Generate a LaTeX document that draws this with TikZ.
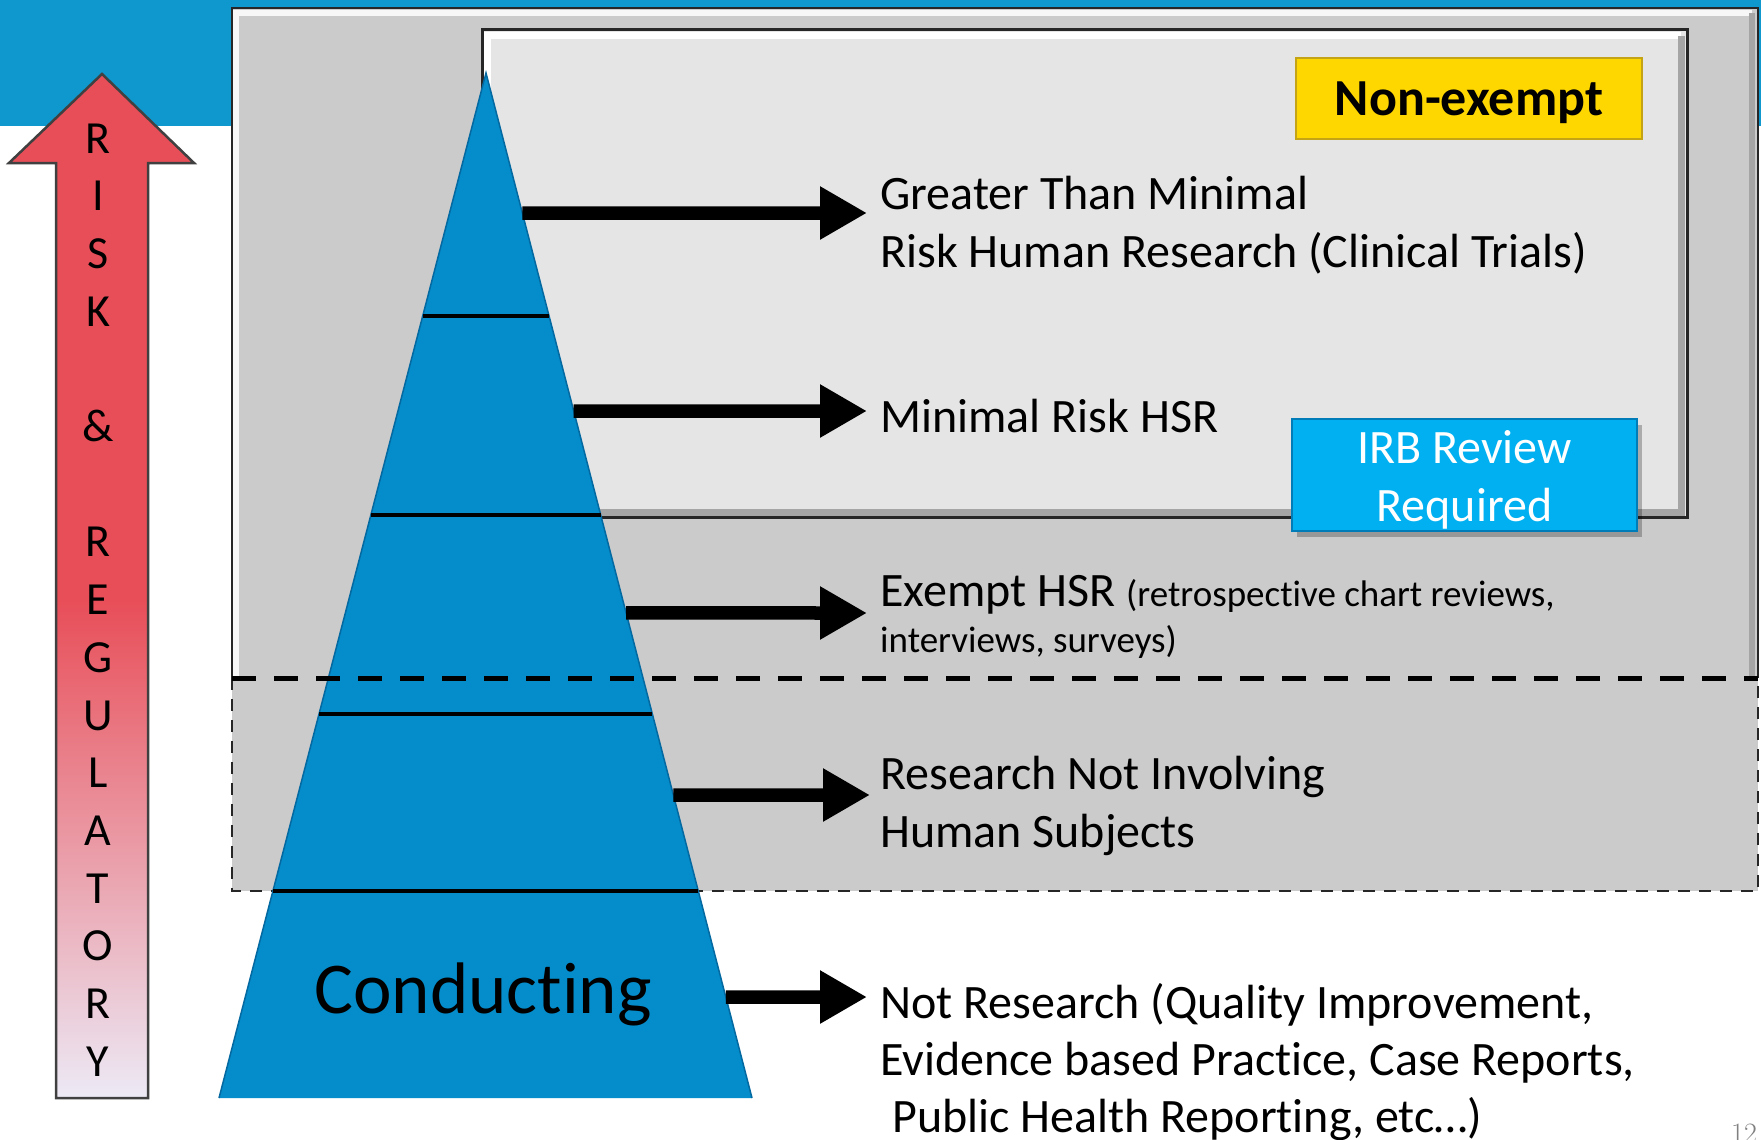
\documentclass[tikz,border=0pt]{standalone}
\usepackage{fontspec}
\setmainfont{Carlito}[Ligatures={NoCommon,NoContextual}]
\usetikzlibrary{arrows.meta,calc}
\newcommand{\nolig}{\kern0pt }
\definecolor{bandblue}{RGB}{14,152,205}
\definecolor{outergray}{RGB}{203,203,203}
\definecolor{innergray}{RGB}{229,229,229}
\definecolor{bevelgray}{RGB}{165,165,165}
\definecolor{pyrblue}{RGB}{5,140,203}
\definecolor{pyredge}{RGB}{3,105,160}
\definecolor{gold}{RGB}{255,215,0}
\definecolor{goldedge}{RGB}{196,164,20}
\definecolor{irbblue}{RGB}{0,176,240}
\definecolor{irbedge}{RGB}{0,125,185}
\definecolor{arrowred}{RGB}{232,78,88}
\definecolor{arrowpale}{RGB}{236,234,246}
\begin{document}
\begin{tikzpicture}[x=1pt,y=-1pt,
  lbl/.style={anchor=base west, inner sep=0pt, font=\fontsize{48}{58}\selectfont},
  sublbl/.style={anchor=base west, inner sep=0pt, font=\fontsize{37}{44}\selectfont},
  pointer/.style={line width=13.5pt, -{Triangle[length=47pt,width=50pt]}},
  levelline/.style={line width=3.3pt, black},
  boxline/.style={line width=2.5pt, black!85},
  riskletter/.style={anchor=base, inner sep=0pt, font=\fontsize{46}{50}\selectfont},
  tagtext/.style={anchor=base, inner sep=0pt, text=white, font=\fontsize{48}{58}\selectfont}
]
\useasboundingbox (0,0) rectangle (1761,1140);
\fill[white] (0,0) rectangle (1761,1140);
\fill[bandblue] (0,0) rectangle (1761,126);

% outer box
\fill[outergray] (232,8) rectangle (1758,891);
\draw[white!85!outergray, line width=6pt] (236,678) -- (236,13) -- (1752,13);
\draw[bevelgray, line width=6pt] (1752,13) -- (1752,678);
\draw[boxline] (232,678) -- (232,8) -- (1758,8) -- (1758,678);
\draw[boxline, dash pattern=on 12pt off 9pt] (232,678) -- (232,891) -- (1758,891) -- (1758,678);

% inner box (non-exempt region)
\fill[innergray] (482,30) rectangle (1687,517);
\draw[white, line width=7pt] (487,512) -- (487,36) -- (1681,36);
\draw[bevelgray, line width=7pt] (1681,36) -- (1681,512) -- (487,512);
\draw[line width=3pt, black!85] (482,30) rectangle (1687,517);

% Non-exempt tag
\node[draw=goldedge, line width=2pt, fill=gold, minimum width=346pt, minimum height=81pt,
      inner sep=0pt, text depth=0pt, text height=33pt,
      font=\fontsize{52}{60}\selectfont\bfseries] (nonex) at (1469,98.5) {Non-exempt};

% IRB tag
\fill[black, opacity=0.25] (1297,425) rectangle (1642,537);
\node[draw=irbedge, line width=2pt, fill=irbblue, minimum width=345pt, minimum height=112pt,
      inner sep=0pt] (irb) at (1464.5,475) {};
\node[tagtext] (irb1) at (1464.5,463) {IRB Review};
\node[tagtext] (irb2) at (1464.5,521) {Required};

% pyramid
\coordinate (apex) at (486,73);
\coordinate (bl) at (219,1098);
\coordinate (br) at (752,1098);
\fill[pyrblue] (apex) -- (bl) -- (br) -- cycle;
\draw[pyredge, line width=1.5pt] (bl) -- (apex) -- (br);
\foreach \t in {0.2371,0.4312,0.6254,0.7980}
  \draw[levelline] ($(apex)!\t!(bl)$) -- ($(apex)!\t!(br)$);
\node[anchor=base, inner sep=0pt, font=\fontsize{73}{80}\selectfont] (cond) at (483,1013) {Conduct\nolig ing};

% dashed divider
\draw[line width=5pt, dash pattern=on 24pt off 18pt] (232,678) -- (1758,678);

% arrow starts / ends
\coordinate (s1) at ($(apex)!0.1366!(br)$);
\coordinate (s2) at ($(apex)!0.3298!(br)$);
\coordinate (s3) at ($(apex)!0.5268!(br)$);
\coordinate (s4) at ($(apex)!0.7044!(br)$);
\coordinate (s5) at ($(apex)!0.9015!(br)$);
\coordinate (e1) at (867,213);
\coordinate (e2) at (867,411);
\coordinate (e3) at (867,613);
\coordinate (e4) at (870,795);
\coordinate (e5) at (867,997);
\draw[pointer] (s1) -- (e1);
\draw[pointer] (s2) -- (e2);
\draw[pointer] (s3) -- (e3);
\draw[pointer] (s4) -- (e4);
\draw[pointer] (s5) -- (e5);

% labels
\node[lbl] (t1a) at (880,209) {Greater Than Minimal};
\node[lbl] (t1b) at (880,267) {Risk Human Research (Clinical Trials)};
\node[lbl] (t2) at (880,432) {Minimal Risk HSR};
\node[lbl] (t3a) at (880,606) {Exempt HSR {\fontsize{37}{44}\selectfont(retrospect\nolig ive chart reviews,}};
\node[sublbl] (t3b) at (880,652) {interviews, surveys)};
\node[lbl] (t4a) at (880,789) {Research Not Involving};
\node[lbl] (t4b) at (880,847) {Human Subjects};
\node[lbl] (t5a) at (880,1018) {Not Research (Quality Improvement,};
\node[lbl] (t5b) at (880,1075) {Evidence based Pract\nolig ice, Case Reports,};
\node[lbl] (t5c) at (892,1132) {Public Health Report\nolig ing, etc…)};

% risk & regulatory arrow
\def\riskpath{(102,74) -- (194,163) -- (148,163) -- (148,1098) -- (56,1098) -- (56,163) -- (9,163) -- cycle}
\begin{scope}
  \clip \riskpath;
  \fill[arrowred] (0,60) rectangle (200,602);
  \shade[top color=arrowred, bottom color=arrowpale] (0,600) rectangle (200,1100);
\end{scope}
\draw[line width=2.5pt, black!75, line join=miter] \riskpath;
\foreach \c [count=\i] in {R,I,S,K,{},\&,{},R,E,G,U,L,A,T,O,R,Y}
  \node[riskletter] (r\i) at (98,{153+(\i-1)*57.7}) {\c};

% page number
\node[anchor=base west, inner sep=0pt, text=gray, font=\fontfamily{lmr}\fontsize{28}{32}\selectfont] (pg) at (1731,1142) {12};
\end{tikzpicture}
\end{document}
